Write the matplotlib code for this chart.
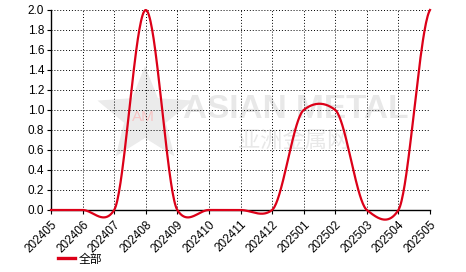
import numpy as np
import matplotlib
matplotlib.use("Agg")
import matplotlib.pyplot as plt
from matplotlib.patches import Polygon

months = ["202405", "202406", "202407", "202408", "202409", "202410", "202411",
          "202412", "202501", "202502", "202503", "202504", "202505"]
values = [0, 0, 0, 2, 0, 0, 0, 0, 1, 1, 0, 0, 2]
series_name = "全部"


def smooth(ys, k=0.25, n=40):
    # cardinal spline through the points, like the original chart's smoothing
    ys = np.asarray(ys, dtype=float)
    m = len(ys)
    tang = np.zeros(m)
    for i in range(m):
        a = ys[max(i - 1, 0)]
        b = ys[min(i + 1, m - 1)]
        tang[i] = k * (b - a)
    xs_out, ys_out = [], []
    for i in range(m - 1):
        t = np.linspace(0, 1, n, endpoint=False)
        h00 = 2 * t**3 - 3 * t**2 + 1
        h10 = t**3 - 2 * t**2 + t
        h01 = -2 * t**3 + 3 * t**2
        h11 = t**3 - t**2
        xs_out.append(i + t)
        ys_out.append(h00 * ys[i] + h10 * tang[i] + h01 * ys[i + 1] + h11 * tang[i + 1])
    xs_out.append([m - 1])
    ys_out.append([ys[-1]])
    return np.concatenate(xs_out), np.concatenate(ys_out)


plt.rcParams["font.family"] = ["Liberation Sans", "Noto Sans CJK SC", "DejaVu Sans"]

W, H = 466, 272
fig = plt.figure(figsize=(W / 100, H / 100), dpi=100)
ax = fig.add_axes([51 / W, 1 - 210 / H, 379 / W, 200 / H])

# faint watermark: star logo + text
cx, cy, r_out, r_in = 145, 116, 50, 22
ang = np.pi / 2 + np.arange(10) * np.pi / 5
rad = np.where(np.arange(10) % 2 == 0, r_out, r_in)
px = cx + rad * np.cos(ang)
py = cy - rad * np.sin(ang)
verts = np.column_stack([(px - 51) / 379, (210 - py) / 200])
ax.add_patch(Polygon(verts, closed=True, transform=ax.transAxes,
                     facecolor="#ebebeb", edgecolor="none", zorder=0))
ax.text((143 - 51) / 379, (210 - 117) / 200, "AM", transform=ax.transAxes,
        ha="center", va="center", fontsize=11, color="#f7c4c4", zorder=0)
ax.text(0.645, 0.5, "ASIAN METAL", transform=ax.transAxes, ha="center", va="center",
        fontsize=24, fontweight="bold", color="#e8e8e8", zorder=0)
ax.text(0.640, 0.35, "亚洲金属网", transform=ax.transAxes, ha="center", va="center",
        fontsize=16, color="#e8e8e8", family=["Noto Sans CJK SC"], zorder=0)

sx, sy = smooth(values)
ax.plot(sx, sy, color="#dc0018", lw=1.6, zorder=3, label=series_name, clip_on=False)

ax.set_xlim(0, len(months) - 1)
ax.set_ylim(0, 2.0)
ax.set_xticks(range(len(months)))
ax.set_xticklabels(months, rotation=45, ha="right", rotation_mode="anchor")
ax.set_yticks(np.arange(0, 2.01, 0.2))
ax.set_yticklabels([f"{v:.1f}" for v in np.arange(0, 2.01, 0.2)])
ax.tick_params(labelsize=8.5, length=3, width=0.8, direction="out", pad=2, colors="black")
ax.tick_params(axis="x", pad=3)

ax.grid(True, color="black", lw=0.7, linestyle=(0, (1, 2)))
ax.set_axisbelow(True)
for side in ["top", "right"]:
    ax.spines[side].set_visible(False)
for side in ["left", "bottom"]:
    ax.spines[side].set_linewidth(1.0)
ax.patch.set_alpha(0)

leg = fig.legend(loc="center left", bbox_to_anchor=(58 / W, 1 - 259 / H), frameon=False,
                 borderpad=0, borderaxespad=0, handlelength=1.4, handletextpad=0.35,
                 prop={"family": ["Noto Sans CJK SC"], "size": 8.5})
for line in leg.get_lines():
    line.set_linewidth(2.4)

fig.savefig("out.png", dpi=100)
